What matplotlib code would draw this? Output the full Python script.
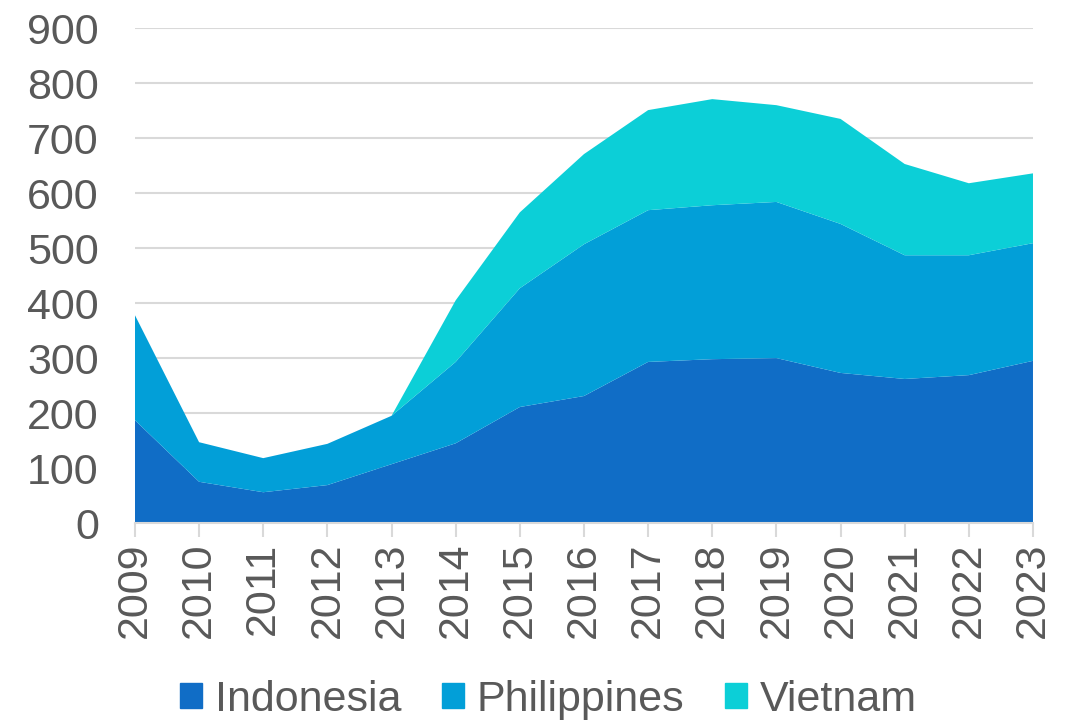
import numpy as np
import matplotlib.pyplot as plt
from matplotlib.patches import Patch

plt.rcParams['font.family'] = ['Liberation Sans', 'DejaVu Sans']

anos = list(range(2009, 2024))
indonesia = [187, 75, 56, 69, 107, 145, 211, 231, 293, 298, 300, 273, 262, 269, 295]
philippines = [191, 72, 62, 75, 88, 148, 216, 276, 276, 280, 284, 271, 225, 218, 214]
vietnam = [0, 0, 0, 0, 0, 112, 138, 164, 182, 193, 176, 191, 166, 131, 127]

cores = ['#106DC6', '#029FD8', '#0CCFD7']
texto = '#595959'

fig = plt.figure(figsize=(10.71, 7.23), dpi=100)
ax = fig.add_axes([0.126, 0.2766, 0.8385, 0.6844])

ax.stackplot(anos, indonesia, philippines, vietnam, colors=cores, linewidth=0)

ax.set_xlim(2009, 2023)
ax.set_ylim(0, 900)
ax.set_yticks(range(0, 901, 100))
ax.set_xticks(anos)
ax.set_xticklabels([str(a) for a in anos], rotation=90)

ax.grid(axis='y', color='#D9D9D9', linewidth=1.5)
ax.set_axisbelow(True)
for lado in ['top', 'right', 'left']:
    ax.spines[lado].set_visible(False)
ax.spines['bottom'].set_color('#D9D9D9')
ax.spines['bottom'].set_linewidth(1.5)

ax.tick_params(axis='y', length=0, labelsize=31, labelcolor=texto, pad=26)
ax.tick_params(axis='x', length=10, width=1.5, color='#D9D9D9', labelsize=31,
               labelcolor=texto, pad=4)

handles = [Patch(color=c) for c in cores]
fig.legend(handles, ['Indonesia', 'Philippines', 'Vietnam'], loc='center',
           bbox_to_anchor=(0.512, 0.032), ncol=3, frameon=False, fontsize=31,
           labelcolor=texto, handlelength=0.5, handleheight=0.5,
           handletextpad=0.3, columnspacing=0.95)

fig.savefig('out.png', dpi=100)
